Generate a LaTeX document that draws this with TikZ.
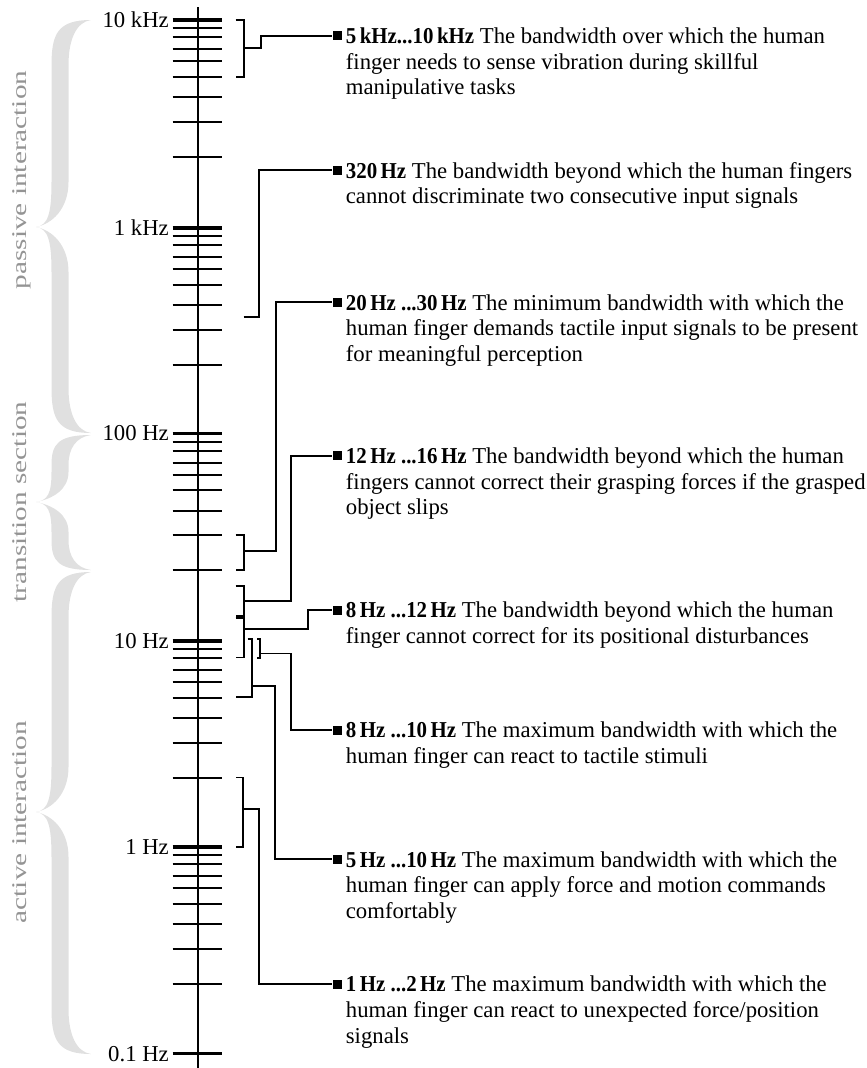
\documentclass[tikz,border=0pt]{standalone}
\usepackage{fontspec}
\setmainfont{Liberation Serif}
\usepackage{graphicx}

\tikzset{
  axisline/.style={line width=2bp},
  majortick/.style={line width=3.4bp},
  minortick/.style={line width=2bp},
  bracket/.style={line width=1.8bp},
  leader/.style={line width=1.8bp},
  marker/.style={fill, inner sep=0pt, minimum size=9bp},
  desc/.style={align=left, inner sep=0pt, anchor=north west, font=\fontsize{22.8}{25.7}\selectfont},
  freq/.style={anchor=east, inner sep=0pt, font=\fontsize{22.8}{25.7}\selectfont},
  zone/.style={rotate=90, anchor=base, inner sep=0pt, text=black!42, font=\fontsize{21}{25}\selectfont},
  zonebrace/.style={fill=black!12},
}

% bold range at the head of a description
\newcommand\rng[1]{\scalebox{0.92}[1]{\textbf{#1}}}

% grey brace: top, tip, bottom, bend length
\newcommand\grbrace[4]{%
  \fill[zonebrace] (91,#1)
    .. controls (58,#1) and (51.5,#1+0.3*#4) .. (51.5,#1+#4)
    -- (51.5,#2-#4)
    .. controls (51.5,#2-0.3*#4) and (48,#2-1.5) .. (36,#2)
    .. controls (48,#2+1.5) and (51.5,#2+0.3*#4) .. (51.5,#2+#4)
    -- (51.5,#3-#4)
    .. controls (51.5,#3-0.3*#4) and (58,#3) .. (91,#3)
    .. controls (76,#3-2) and (68.5,#3-0.45*#4) .. (68.5,#3-#4)
    -- (68.5,#2+#4)
    .. controls (68.5,#2+0.4*#4) and (52,#2+3) .. (36,#2)
    .. controls (52,#2-3) and (68.5,#2-0.4*#4) .. (68.5,#2-#4)
    -- (68.5,#1+#4)
    .. controls (68.5,#1+0.45*#4) and (76,#1+2) .. (91,#1)
    -- cycle;}

\begin{document}
\begin{tikzpicture}[x=1bp, y=-1bp]
\useasboundingbox (0,0) rectangle (867,1068);

% interaction zones
\grbrace{20}{227}{433}{45}
\grbrace{435}{502}{570}{30}
\grbrace{572}{812}{1054}{45}
\node[zone] (passive) at (26,180) {\scalebox{1.4}[1]{passive interaction}};
\node[zone] (transition) at (26,502) {\scalebox{1.4}[1]{transition section}};
\node[zone] (active) at (26,822) {\scalebox{1.4}[1]{active interaction}};

% frequency axis
\draw[axisline] (197.7,7) -- (197.7,1068);
\foreach \d/\lab [count=\i] in {20/10 kHz, 228/1 kHz, 433.5/100 Hz, 641/10 Hz, 847/1 Hz, 1053.7/0.1 Hz}{
  \draw[majortick] (172.7,\d) -- (222.3,\d);
  \node[freq] (freq\i) at (169,\d) {\lab};
}
\foreach \d in {20,228,433.5,641,847}
  \foreach \o in {8,17.2,29.2,41.1,56.5,77,101.7,136.8}
    \draw[minortick] (172.7,\d+\o) -- (222.3,\d+\o);

% 5 kHz ... 10 kHz
\node[marker] (m1) at (337,35.7) {};
\node[desc] (t1) at ([xshift=4bp,yshift=8bp]m1.east) {\rng{5\,kHz...10\,kHz} The bandwidth over which the human\\finger needs to sense vibration during skillful\\manipulative tasks};
\draw[bracket] (235.7,20) -| (244.3,77) -- (235.7,77);
\draw[leader] (244.3,47.7) -- (260.7,47.7) |- (m1);

% 320 Hz
\node[marker] (m2) at (337,170) {};
\node[desc] (t2) at ([xshift=4bp,yshift=8bp]m2.east) {\rng{320\,Hz} The bandwidth beyond which the human fingers\\cannot discriminate two consecutive input signals};
\draw[leader] (243.7,317.3) -- (259.3,317.3) |- (m2);

% 20 Hz ... 30 Hz
\node[marker] (m3) at (337,302.3) {};
\node[desc] (t3) at ([xshift=4bp,yshift=8bp]m3.east) {\rng{20\,Hz ...30\,Hz} The minimum bandwidth with which the\\human finger demands tactile input signals to be present\\for meaningful perception};
\draw[bracket] (235.7,535.3) -| (244.3,570) -- (235.7,570);
\draw[leader] (244.3,551) -- (275.7,551) |- (m3);

% 12 Hz ... 16 Hz
\node[marker] (m4) at (337,455.7) {};
\node[desc] (t4) at ([xshift=4bp,yshift=8bp]m4.east) {\rng{12\,Hz ...16\,Hz} The bandwidth beyond which the human\\fingers cannot correct their grasping forces if the grasped\\object slips};
\draw[bracket] (235.7,586) -| (243.8,615.8) -- (235.7,615.8);
\draw[leader] (243.8,601) -- (291,601) |- (m4);

% 8 Hz ... 12 Hz
\node[marker] (m5) at (337,610) {};
\node[desc] (t5) at ([xshift=4bp,yshift=8bp]m5.east) {\rng{8\,Hz ...12\,Hz} The bandwidth beyond which the human\\finger cannot correct for its positional disturbances};
\draw[bracket] (235.7,618.3) -| (243.8,657.5) -- (235.7,657.5);
\draw[leader] (243.8,629) -- (308.3,629) |- (m5);

% 8 Hz ... 10 Hz
\node[marker] (m6) at (337,730) {};
\node[desc] (t6) at ([xshift=4bp,yshift=8bp]m6.east) {\rng{8\,Hz ...10\,Hz} The maximum bandwidth with which the\\human finger can react to tactile stimuli};
\draw[bracket] (257.3,639) -| (260,657.7) -- (257.3,657.7);
\draw[leader] (260,653.5) -- (291,653.5) |- (m6);

% 5 Hz ... 10 Hz
\node[marker] (m7) at (337,859.3) {};
\node[desc] (t7) at ([xshift=4bp,yshift=8bp]m7.east) {\rng{5\,Hz ...10\,Hz} The maximum bandwidth with which the\\human finger can apply force and motion commands\\comfortably};
\draw[bracket] (247.7,639) -| (252.3,696.7) -- (236,696.7);
\draw[leader] (252.3,685.7) -- (275,685.7) |- (m7);

% 1 Hz ... 2 Hz
\node[marker] (m8) at (337,984) {};
\node[desc] (t8) at ([xshift=4bp,yshift=8bp]m8.east) {\rng{1\,Hz ...2\,Hz} The maximum bandwidth with which the\\human finger can react to unexpected force/position\\signals};
\draw[bracket] (236,777.5) -| (243.3,846.7) -- (236,846.7);
\draw[leader] (243.3,809) -- (259,809) |- (m8);
\end{tikzpicture}
\end{document}
